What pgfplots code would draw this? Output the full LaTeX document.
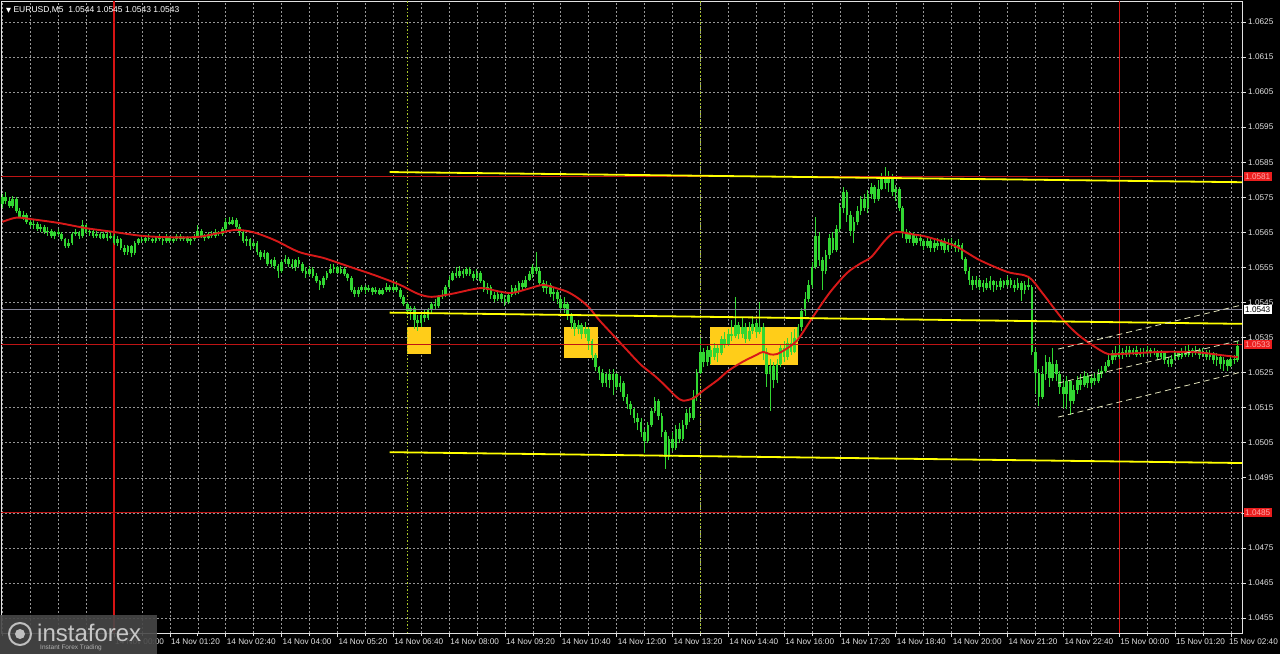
\documentclass[border=0pt]{standalone}
\usepackage{fontspec}
\setmainfont{Liberation Sans}
\newfontfamily\dejavu{DejaVu Sans}
\usepackage{pgfplots}
\usepackage{pgfplotstable}
\pgfplotsset{compat=1.18}
\definecolor{cgreen}{RGB}{50,215,50}
\definecolor{mared}{RGB}{215,25,25}
\definecolor{lvlred}{RGB}{190,20,20}
\definecolor{vred}{RGB}{215,20,20}
\definecolor{ylw}{RGB}{255,255,0}
\definecolor{boxgold}{RGB}{255,205,25}
\definecolor{gridc}{RGB}{150,150,150}
\definecolor{txt}{RGB}{225,225,225}
\definecolor{olivedot}{RGB}{170,200,40}
\definecolor{chan}{RGB}{225,225,185}
\definecolor{lblred}{RGB}{235,30,30}
\definecolor{bidc}{RGB}{130,130,150}

\pgfplotstableread{
t o h l c
-32 1.0573 1.0576 1.0572 1.0575
-31 1.0575 1.05765 1.0573 1.0574
-30 1.0574 1.0575 1.0572 1.05725
-29 1.05725 1.05755 1.0572 1.05745
-28 1.05745 1.0575 1.05705 1.0571
-27 1.0571 1.0572 1.0569 1.05695
-26 1.05695 1.0571 1.05685 1.0570
-25 1.0570 1.05705 1.05675 1.0568
-24 1.0568 1.0569 1.05665 1.0567
-23 1.0567 1.05685 1.0566 1.05675
-22 1.05675 1.0568 1.05655 1.0566
-21 1.0566 1.05675 1.0565 1.05665
-20 1.05665 1.0567 1.05645 1.0565
-19 1.0565 1.05665 1.0564 1.05655
-18 1.05655 1.0566 1.05635 1.0564
-17 1.0564 1.05655 1.0563 1.0565
-16 1.0565 1.0566 1.0564 1.05645
-15 1.05645 1.0565 1.05625 1.0563
-14 1.0563 1.05635 1.05605 1.0561
-13 1.0561 1.0563 1.05605 1.0562
-12 1.0562 1.0565 1.05615 1.05645
-11 1.05645 1.0566 1.0564 1.0565
-10 1.0565 1.05655 1.0563 1.0564
-9 1.0564 1.05685 1.05635 1.0567
-8 1.0567 1.05675 1.05645 1.0565
-7 1.0565 1.0566 1.0564 1.05655
-6 1.05655 1.0566 1.05635 1.0564
-5 1.0564 1.05655 1.05635 1.05645
-4 1.05645 1.0565 1.0563 1.05635
-3 1.05635 1.0565 1.0563 1.05645
-2 1.05645 1.0565 1.05625 1.05635
-1 1.05635 1.0565 1.0563 1.0564
0 1.0564 1.05645 1.05615 1.0562
1 1.0562 1.0564 1.0561 1.0563
2 1.0563 1.05635 1.0560 1.05605
3 1.05605 1.05615 1.05585 1.05595
4 1.05595 1.05615 1.05585 1.0561
5 1.0561 1.05615 1.0558 1.0559
6 1.0559 1.05625 1.05585 1.0562
7 1.0562 1.05635 1.05615 1.0563
8 1.0563 1.0564 1.0562 1.05625
9 1.05625 1.0564 1.0562 1.05635
10 1.05635 1.05645 1.05625 1.0563
11 1.0563 1.05635 1.0562 1.05625
12 1.05625 1.0564 1.0562 1.05635
13 1.05635 1.05645 1.05625 1.0563
14 1.0563 1.05635 1.05615 1.05625
15 1.05625 1.05645 1.0562 1.05635
16 1.05635 1.0564 1.0562 1.05625
17 1.05625 1.05635 1.0562 1.0563
18 1.0563 1.05645 1.05625 1.0564
19 1.0564 1.05645 1.05625 1.0563
20 1.0563 1.0564 1.05625 1.05635
21 1.05635 1.0564 1.0562 1.05625
22 1.05625 1.05635 1.05615 1.0563
23 1.0563 1.05645 1.05625 1.0564
24 1.0564 1.0567 1.05635 1.05655
25 1.05655 1.0566 1.05635 1.0564
26 1.0564 1.05645 1.05625 1.05635
27 1.05635 1.0565 1.0563 1.05645
28 1.05645 1.05655 1.05635 1.0564
29 1.0564 1.0566 1.05635 1.0565
30 1.0565 1.05655 1.0564 1.05645
31 1.05645 1.05665 1.0564 1.0566
32 1.0566 1.0569 1.05655 1.0568
33 1.0568 1.05695 1.0567 1.05675
34 1.05675 1.05695 1.0567 1.05685
35 1.05685 1.0569 1.0566 1.05665
36 1.05665 1.05675 1.0564 1.0565
37 1.0565 1.05655 1.0562 1.05625
38 1.05625 1.0564 1.0561 1.0563
39 1.0563 1.05635 1.0560 1.0561
40 1.0561 1.05625 1.05605 1.0562
41 1.0562 1.05625 1.05585 1.05595
42 1.05595 1.0560 1.0557 1.0558
43 1.0558 1.0560 1.05575 1.0559
44 1.0559 1.05595 1.05555 1.0556
45 1.0556 1.05575 1.0555 1.0557
46 1.0557 1.0558 1.05545 1.05555
47 1.05555 1.0556 1.0552 1.0554
48 1.0554 1.0557 1.05535 1.05565
49 1.05565 1.05585 1.0556 1.05575
50 1.05575 1.0558 1.0555 1.0556
51 1.0556 1.05575 1.05545 1.0555
52 1.0555 1.05575 1.0554 1.0557
53 1.0557 1.0558 1.0555 1.0556
54 1.0556 1.05565 1.05535 1.0554
55 1.0554 1.0555 1.0552 1.0553
56 1.0553 1.05555 1.05525 1.05545
57 1.05545 1.0555 1.0552 1.05525
58 1.05525 1.05535 1.05505 1.0551
59 1.0551 1.05515 1.05485 1.0550
60 1.0550 1.05525 1.0549 1.0552
61 1.0552 1.0554 1.05515 1.05535
62 1.05535 1.0556 1.0553 1.05545
63 1.05545 1.0556 1.05535 1.0555
64 1.0555 1.05555 1.0553 1.05535
65 1.05535 1.05555 1.0553 1.05545
66 1.05545 1.0555 1.05525 1.0553
67 1.0553 1.05535 1.0551 1.0552
68 1.0552 1.05525 1.0548 1.05485
69 1.05485 1.05495 1.05465 1.05475
70 1.05475 1.05495 1.05465 1.05485
71 1.05485 1.0550 1.0548 1.05495
72 1.05495 1.0550 1.05475 1.05485
73 1.05485 1.0550 1.0548 1.0549
74 1.0549 1.05495 1.0547 1.0548
75 1.0548 1.05495 1.05475 1.05485
76 1.05485 1.0549 1.0547 1.05475
77 1.05475 1.0549 1.0547 1.05485
78 1.05485 1.05505 1.0548 1.05495
79 1.05495 1.0550 1.0548 1.05485
80 1.05485 1.05505 1.0548 1.05495
81 1.05495 1.0551 1.0548 1.05485
82 1.05485 1.0549 1.0546 1.05465
83 1.05465 1.0547 1.0544 1.05445
84 1.05445 1.0545 1.05415 1.05425
85 1.05425 1.0544 1.0540 1.05435
86 1.05435 1.0544 1.05375 1.0540
87 1.0540 1.05415 1.0537 1.0539
88 1.0539 1.0542 1.0538 1.05415
89 1.05415 1.0543 1.05395 1.05405
90 1.05405 1.05435 1.0540 1.0543
91 1.0543 1.0545 1.0542 1.05445
92 1.05445 1.0546 1.0543 1.0544
93 1.0544 1.0547 1.05435 1.05465
94 1.05465 1.05485 1.0546 1.0547
95 1.0547 1.0550 1.05465 1.05495
96 1.05495 1.05525 1.0549 1.05515
97 1.05515 1.0554 1.0551 1.05535
98 1.05535 1.0555 1.0552 1.05525
99 1.05525 1.05555 1.0552 1.0554
100 1.0554 1.05545 1.0552 1.0553
101 1.0553 1.0555 1.05525 1.05545
102 1.05545 1.0555 1.05525 1.0553
103 1.0553 1.0554 1.0551 1.0552
104 1.0552 1.05545 1.05515 1.05535
105 1.05535 1.0554 1.05505 1.0551
106 1.0551 1.05515 1.0548 1.05485
107 1.05485 1.05505 1.05475 1.05495
108 1.05495 1.0550 1.0546 1.0547
109 1.0547 1.0548 1.0545 1.0546
110 1.0546 1.0548 1.05455 1.05475
111 1.05475 1.0548 1.0545 1.0546
112 1.0546 1.0547 1.0544 1.0545
113 1.0545 1.0548 1.05445 1.0547
114 1.0547 1.0550 1.05465 1.0549
115 1.0549 1.0550 1.0547 1.0548
116 1.0548 1.0551 1.05475 1.05505
117 1.05505 1.05515 1.05485 1.05495
118 1.05495 1.05525 1.0549 1.05515
119 1.05515 1.0554 1.0551 1.0553
120 1.0553 1.0556 1.0552 1.0555
121 1.0555 1.05595 1.0553 1.0554
122 1.0554 1.0555 1.0550 1.05505
123 1.05505 1.05515 1.0548 1.0549
124 1.0549 1.0551 1.05475 1.0550
125 1.0550 1.05505 1.05465 1.05475
126 1.05475 1.05495 1.05455 1.0548
127 1.0548 1.05485 1.05445 1.0546
128 1.0546 1.05465 1.05425 1.05435
129 1.05435 1.05465 1.0542 1.05445
130 1.05445 1.0545 1.0540 1.0541
131 1.0541 1.0542 1.05375 1.0539
132 1.0539 1.0540 1.05355 1.05375
133 1.05375 1.0540 1.0536 1.05385
134 1.05385 1.0539 1.05345 1.0536
135 1.0536 1.05395 1.0535 1.05375
136 1.05375 1.0538 1.05315 1.0534
137 1.0534 1.05345 1.05285 1.0530
138 1.0530 1.05305 1.05255 1.05265
139 1.05265 1.0527 1.0523 1.0525
140 1.0525 1.0526 1.0521 1.0522
141 1.0522 1.0525 1.0521 1.05245
142 1.05245 1.0526 1.05205 1.0523
143 1.0523 1.0526 1.05185 1.05245
144 1.05245 1.0525 1.0520 1.0521
145 1.0521 1.0524 1.05195 1.0522
146 1.0522 1.05225 1.0517 1.0518
147 1.0518 1.0519 1.05145 1.0516
148 1.0516 1.0517 1.0513 1.05145
149 1.05145 1.0515 1.05105 1.0512
150 1.0512 1.05135 1.05085 1.0511
151 1.0511 1.0512 1.05065 1.0508
152 1.0508 1.0509 1.0502 1.05055
153 1.05055 1.0511 1.0505 1.0510
154 1.0510 1.0515 1.05095 1.0514
155 1.0514 1.0518 1.05135 1.0517
156 1.0517 1.05175 1.05115 1.05125
157 1.05125 1.05135 1.05065 1.0508
158 1.0508 1.05085 1.04975 1.0501
159 1.0501 1.0507 1.0500 1.0506
160 1.0506 1.0508 1.05025 1.05035
161 1.05035 1.0510 1.0503 1.0509
162 1.0509 1.05105 1.0505 1.0506
163 1.0506 1.05115 1.05055 1.0510
164 1.0510 1.05145 1.0509 1.05135
165 1.05135 1.0515 1.0511 1.0512
166 1.0512 1.0520 1.05115 1.0518
167 1.0518 1.0526 1.0517 1.0525
168 1.0525 1.0535 1.05245 1.0531
169 1.0531 1.0532 1.05265 1.0528
170 1.0528 1.05325 1.0527 1.05315
171 1.05315 1.05325 1.05275 1.05295
172 1.05295 1.05335 1.05285 1.0532
173 1.0532 1.0533 1.0528 1.05305
174 1.05305 1.05355 1.0530 1.05345
175 1.05345 1.05365 1.0532 1.0533
176 1.0533 1.05375 1.05325 1.0536
177 1.0536 1.0540 1.0534 1.05355
178 1.05355 1.05465 1.0535 1.05385
179 1.05385 1.05395 1.05345 1.0536
180 1.0536 1.05405 1.0535 1.0538
181 1.0538 1.0539 1.05335 1.05345
182 1.05345 1.05395 1.0534 1.0537
183 1.0537 1.0541 1.0536 1.0539
184 1.0539 1.0540 1.0535 1.05365
185 1.05365 1.0545 1.0536 1.0538
186 1.0538 1.0539 1.05285 1.0531
187 1.0531 1.0532 1.0521 1.05245
188 1.05245 1.0529 1.0514 1.0527
189 1.0527 1.0528 1.05205 1.0523
190 1.0523 1.0529 1.0522 1.05275
191 1.05275 1.0533 1.05265 1.0532
192 1.0532 1.0534 1.0528 1.05295
193 1.05295 1.0535 1.05285 1.05335
194 1.05335 1.05365 1.0530 1.0531
195 1.0531 1.05375 1.05305 1.0535
196 1.0535 1.0539 1.0534 1.0538
197 1.0538 1.05435 1.0537 1.05425
198 1.05425 1.0548 1.0541 1.0546
199 1.0546 1.05515 1.0545 1.0550
200 1.0550 1.05565 1.0549 1.0555
201 1.0555 1.05695 1.05545 1.0564
202 1.0564 1.0565 1.05555 1.0557
203 1.0557 1.0558 1.05485 1.0554
204 1.0554 1.0560 1.0553 1.05585
205 1.05585 1.05645 1.05575 1.05635
206 1.05635 1.0565 1.0559 1.0560
207 1.0560 1.0567 1.05595 1.0566
208 1.0566 1.05735 1.0565 1.0572
209 1.0572 1.0578 1.05705 1.05765
210 1.05765 1.0577 1.0568 1.0570
211 1.0570 1.0571 1.0564 1.05655
212 1.05655 1.05695 1.0562 1.0568
213 1.0568 1.05725 1.0567 1.0571
214 1.0571 1.05755 1.0570 1.05745
215 1.05745 1.0576 1.0571 1.0572
216 1.0572 1.0577 1.05705 1.0576
217 1.0576 1.0579 1.05745 1.0578
218 1.0578 1.05785 1.05735 1.05745
219 1.05745 1.0580 1.0574 1.05775
220 1.05775 1.0582 1.0577 1.05805
221 1.05805 1.05835 1.05775 1.0579
222 1.0579 1.05825 1.05765 1.0581
223 1.0581 1.05815 1.05755 1.05765
224 1.05765 1.05785 1.0574 1.05775
225 1.05775 1.0578 1.0571 1.0572
226 1.0572 1.05725 1.05635 1.0565
227 1.0565 1.0566 1.0562 1.0563
228 1.0563 1.05655 1.0562 1.05645
229 1.05645 1.0565 1.0561 1.0562
230 1.0562 1.0564 1.05615 1.05635
231 1.05635 1.05645 1.0561 1.05625
232 1.05625 1.0563 1.0560 1.0561
233 1.0561 1.05635 1.05605 1.05625
234 1.05625 1.0563 1.05595 1.05605
235 1.05605 1.0563 1.05595 1.0562
236 1.0562 1.05635 1.0560 1.0561
237 1.0561 1.0563 1.0560 1.05625
238 1.05625 1.05635 1.0559 1.0560
239 1.0560 1.0563 1.05595 1.05615
240 1.05615 1.05635 1.05605 1.0562
241 1.0562 1.05625 1.05595 1.05605
242 1.05605 1.0563 1.05595 1.05615
243 1.05615 1.0562 1.0557 1.05575
244 1.05575 1.0558 1.0553 1.0554
245 1.0554 1.0555 1.0550 1.05515
246 1.05515 1.05525 1.05485 1.0550
247 1.0550 1.05525 1.0549 1.05515
248 1.05515 1.0552 1.05485 1.05495
249 1.05495 1.05515 1.0548 1.05505
250 1.05505 1.0552 1.05485 1.0549
251 1.0549 1.05525 1.05485 1.0551
252 1.0551 1.05515 1.0548 1.0550
253 1.0550 1.0551 1.05485 1.05495
254 1.05495 1.0552 1.05485 1.0551
255 1.0551 1.05515 1.0549 1.0550
256 1.0550 1.05525 1.05495 1.05515
257 1.05515 1.0552 1.0549 1.0550
258 1.0550 1.05515 1.0548 1.0549
259 1.0549 1.0552 1.05485 1.05505
260 1.05505 1.0551 1.05455 1.05485
261 1.05485 1.0551 1.05475 1.0550
262 1.0550 1.05525 1.05485 1.05495
263 1.05495 1.0550 1.0530 1.0531
264 1.0531 1.0532 1.0519 1.0525
265 1.0525 1.0526 1.05155 1.0518
266 1.0518 1.0527 1.05175 1.05245
267 1.05245 1.0530 1.0523 1.0528
268 1.0528 1.05295 1.0521 1.05235
269 1.05235 1.0532 1.05225 1.05275
270 1.05275 1.05285 1.05225 1.05245
271 1.05245 1.05255 1.0519 1.0521
272 1.0521 1.0523 1.0515 1.0519
273 1.0519 1.0524 1.05145 1.05225
274 1.05225 1.0523 1.0513 1.0517
275 1.0517 1.05215 1.0516 1.0520
276 1.0520 1.0524 1.0519 1.0523
277 1.0523 1.05245 1.0520 1.05215
278 1.05215 1.05255 1.0521 1.0524
279 1.0524 1.0525 1.05205 1.0522
280 1.0522 1.05245 1.0521 1.05235
281 1.05235 1.0525 1.05215 1.05225
282 1.05225 1.0526 1.0522 1.05245
283 1.05245 1.0527 1.05235 1.05255
284 1.05255 1.0528 1.0525 1.0527
285 1.0527 1.0530 1.05265 1.05285
286 1.05285 1.05315 1.05275 1.05305
287 1.05305 1.05325 1.05285 1.05295
288 1.05295 1.0533 1.0529 1.0531
289 1.0531 1.0532 1.0529 1.0530
290 1.0530 1.05325 1.05295 1.05315
291 1.05315 1.05325 1.05295 1.05305
292 1.05305 1.0532 1.0530 1.05315
293 1.05315 1.05325 1.05295 1.0530
294 1.0530 1.0532 1.05295 1.0531
295 1.0531 1.0532 1.05295 1.05305
296 1.05305 1.05325 1.0530 1.05315
297 1.05315 1.0532 1.05295 1.05305
298 1.05305 1.0532 1.0530 1.0531
299 1.0531 1.05315 1.05285 1.05295
300 1.05295 1.05315 1.0529 1.05305
301 1.05305 1.0531 1.05275 1.05285
302 1.05285 1.05295 1.05265 1.05275
303 1.05275 1.0530 1.05265 1.0529
304 1.0529 1.05315 1.05285 1.05305
305 1.05305 1.0531 1.05285 1.05295
306 1.05295 1.0532 1.0529 1.0531
307 1.0531 1.05325 1.05295 1.0530
308 1.0530 1.0533 1.05295 1.05315
309 1.05315 1.0532 1.05295 1.05305
310 1.05305 1.05325 1.0530 1.05315
311 1.05315 1.0532 1.0529 1.0530
312 1.0530 1.0532 1.05295 1.0531
313 1.0531 1.05315 1.05285 1.05295
314 1.05295 1.05315 1.05285 1.05305
315 1.05305 1.0531 1.05275 1.05285
316 1.05285 1.05305 1.0527 1.05295
317 1.05295 1.0530 1.0526 1.05275
318 1.05275 1.05295 1.05255 1.05285
319 1.05285 1.0529 1.05255 1.0527
320 1.0527 1.0530 1.05265 1.0529
321 1.0529 1.0530 1.05275 1.05285
322 1.05285 1.0534 1.0528 1.05325
}\candles

\pgfplotstableread{
t ma
-32 1.05680
-28 1.05692
-24 1.05688
-16 1.05677
-8 1.05662
0 1.05651
8 1.05640
16 1.05636
24 1.05637
30 1.05648
35 1.05657
40 1.05650
46 1.05628
53 1.05594
60 1.05577
66 1.05557
72 1.05537
76 1.05523
82 1.05500
87 1.05475
91 1.05466
97 1.05475
105 1.05491
110 1.05482
114 1.05477
119 1.05490
123 1.05500
127 1.05490
130 1.05480
133 1.05462
136 1.05437
139 1.05400
143 1.05357
147 1.05314
151 1.05272
155 1.05240
158 1.05212
161 1.05182
163 1.05170
166 1.05177
169 1.05200
173 1.05229
176 1.05255
180 1.05280
184 1.05300
186 1.05309
188 1.05302
190 1.05303
193 1.05320
196 1.05345
200 1.05405
205 1.05477
210 1.05534
214 1.05562
217 1.05580
221 1.05628
224 1.05651
229 1.05644
233 1.05637
241 1.05611
248 1.05571
256 1.05537
262 1.05523
266 1.05477
272 1.05400
277 1.05352
284 1.05306
288 1.05303
300 1.05309
310 1.05308
317 1.05300
322 1.05294
}\matable

\begin{document}
\begin{tikzpicture}
\useasboundingbox (0,0) rectangle (1280bp,654bp);
\fill[black] (0,0) rectangle (1280bp,654bp);
\begin{axis}[
  at={(1bp,21bp)}, anchor=south west,
  scale only axis, width=1241bp, height=632bp,
  xmin=-32.38, xmax=323.21, ymin=1.045072, ymax=1.063099,
  clip=false,
  axis background/.style={fill=black},
  axis line style={draw=txt, line width=0.9bp},
  xtick={0,16,...,320},
  xticklabels={14 Nov 00:00,14 Nov 01:20,14 Nov 02:40,14 Nov 04:00,14 Nov 05:20,14 Nov 06:40,14 Nov 08:00,14 Nov 09:20,14 Nov 10:40,14 Nov 12:00,14 Nov 13:20,14 Nov 14:40,14 Nov 16:00,14 Nov 17:20,14 Nov 18:40,14 Nov 20:00,14 Nov 21:20,14 Nov 22:40,15 Nov 00:00,15 Nov 01:20,{}},
  minor xtick={-32,-24,...,320},
  ytick={1.0455,1.0465,1.0475,1.0485,1.0495,1.0505,1.0515,1.0525,1.0535,1.0545,1.0555,1.0565,1.0575,1.0585,1.0595,1.0605,1.0615,1.0625},
  yticklabels={1.0455,1.0465,1.0475,{},1.0495,1.0505,1.0515,1.0525,1.0535,1.0545,1.0555,1.0565,1.0575,1.0585,1.0595,1.0605,1.0615,1.0625},
  xtick pos=left, ytick pos=right, yticklabel pos=right,
  tick align=outside,
  major tick length=4bp, minor tick length=3bp,
  tick style={draw=txt, line width=0.6bp},
  xmajorgrids, xminorgrids, ymajorgrids,
  major grid style={draw=gridc, line width=0.5bp, dash pattern=on 2bp off 2bp},
  minor grid style={draw=gridc, line width=0.5bp, dash pattern=on 2bp off 2bp},
  xticklabel style={anchor=north west, inner sep=0pt, xshift=1bp, yshift=-1.5bp, text=txt, font=\fontsize{8.2bp}{10bp}\selectfont},
  yticklabel style={anchor=west, inner sep=0pt, xshift=2bp, text=txt, font=\fontsize{8.2bp}{10bp}\selectfont},
]
% signal boxes (background)
\addplot[fill=boxgold, draw=none] coordinates {(84,1.0538) (90.8,1.0538) (90.8,1.05303) (84,1.05303)} -- cycle;
\addplot[fill=boxgold, draw=none] coordinates {(128.9,1.0538) (138.7,1.0538) (138.7,1.05292) (128.9,1.05292)} -- cycle;
\addplot[fill=boxgold, draw=none] coordinates {(170.8,1.0538) (195.9,1.0538) (195.9,1.05272) (170.8,1.05272)} -- cycle;
% day separators and marker lines
\addplot[vred, line width=1.1bp] coordinates {(0,1.045072) (0,1.063099)};
\addplot[vred, line width=1.1bp] coordinates {(288,1.045072) (288,1.063099)};
\addplot[olivedot, line width=0.9bp, dash pattern=on 1.5bp off 2bp] coordinates {(84,1.045072) (84,1.063099)};
\addplot[olivedot, line width=0.9bp, dash pattern=on 1.5bp off 2bp] coordinates {(168,1.045072) (168,1.063099)};
% candles: wicks
\addplot[draw=none, mark=none, error bars/.cd, y dir=plus, y explicit, error mark=none,
  error bar style={draw=cgreen, line width=1bp, solid}]
  table[x=t, y=l, y error plus expr=\thisrow{h}-\thisrow{l}] {\candles};
% candles: bodies
\addplot[draw=none, mark=none, error bars/.cd, y dir=plus, y explicit, error mark=none,
  error bar style={draw=cgreen, line width=2.7bp, solid}]
  table[x=t, y expr={min(\thisrow{o},\thisrow{c})}, y error plus expr={abs(\thisrow{c}-\thisrow{o})}] {\candles};
% moving average
\addplot[mared, line width=1.9bp, smooth, tension=0.5, mark=none] table[x=t, y=ma] {\matable};
% horizontal levels
\addplot[lvlred, line width=0.9bp] coordinates {(-32.38,1.0581) (323.21,1.0581)};
\addplot[lvlred, line width=0.9bp] coordinates {(-32.38,1.0533) (323.21,1.0533)};
\addplot[lvlred, line width=0.9bp] coordinates {(-32.38,1.0485) (323.21,1.0485)};
\addplot[bidc, line width=0.7bp] coordinates {(-32.38,1.0543) (323.21,1.0543)};
% yellow lines
\addplot[ylw, line width=1.8bp] coordinates {(79,1.05822) (323.21,1.05793)};
\addplot[ylw, line width=1.8bp] coordinates {(79,1.05421) (323.21,1.05389)};
\addplot[ylw, line width=1.8bp] coordinates {(79,1.05023) (323.21,1.04992)};
% channel
\addplot[chan, line width=0.8bp, dash pattern=on 6bp off 4bp] coordinates {(270.5,1.05317) (323.21,1.05443)};
\addplot[chan, line width=0.8bp, dash pattern=on 6bp off 4bp] coordinates {(270.5,1.05220) (323.21,1.05343)};
\addplot[chan, line width=0.8bp, dash pattern=on 6bp off 4bp] coordinates {(270.5,1.05123) (323.21,1.05252)};
% right-hand price labels
\node[fill=lblred, text={rgb,255:red,255;green,170;blue,170}, anchor=west, inner xsep=1.5bp, inner ysep=1.5bp, font=\fontsize{8.2bp}{9bp}\selectfont, xshift=1.5bp] at (axis cs:323.21,1.0581) {1.0581};
\node[fill=lblred, text={rgb,255:red,255;green,170;blue,170}, anchor=west, inner xsep=1.5bp, inner ysep=1.5bp, font=\fontsize{8.2bp}{9bp}\selectfont, xshift=1.5bp] at (axis cs:323.21,1.0533) {1.0533};
\node[fill=lblred, text={rgb,255:red,255;green,170;blue,170}, anchor=west, inner xsep=1.5bp, inner ysep=1.5bp, font=\fontsize{8.2bp}{9bp}\selectfont, xshift=1.5bp] at (axis cs:323.21,1.0485) {1.0485};
\node[fill=white, text=black, anchor=west, inner xsep=1.5bp, inner ysep=1.5bp, font=\fontsize{8.2bp}{9bp}\selectfont, xshift=1.5bp] at (axis cs:323.21,1.0543) {1.0543};
% last time label kept inside the picture
\node[anchor=north east, inner sep=0pt, text=txt, font=\fontsize{8.2bp}{10bp}\selectfont] at (rel axis cs:1,0) [xshift=36bp, yshift=-5.5bp] {15 Nov 02:40};
% title
\node[anchor=west, text=white, inner sep=0pt, font=\fontsize{8.5bp}{10bp}\selectfont] at (rel axis cs:0,1) [xshift=5bp, yshift=-9bp] {{\dejavu\fontsize{6.5bp}{6.5bp}\selectfont ▼}\ EURUSD,M5\ \ 1.0544 1.0545 1.0543 1.0543};
\end{axis}
% logo
\fill[black!72!white, opacity=0.9] (0,0) rectangle (157bp,39bp);
\draw[white!75!black, line width=2bp] (20bp,20bp) circle (11bp);
\fill[white!75!black] (20bp,20bp) circle (5bp);
\node[anchor=south west, inner sep=0pt, text=white!78!black, font=\fontsize{24bp}{24bp}\selectfont] at (37bp,12bp) {instaforex};
\node[anchor=south west, inner sep=0pt, text=white!70!black, font=\fontsize{6.5bp}{7bp}\selectfont] at (40bp,3bp) {Instant Forex Trading};
\end{tikzpicture}
\end{document}
